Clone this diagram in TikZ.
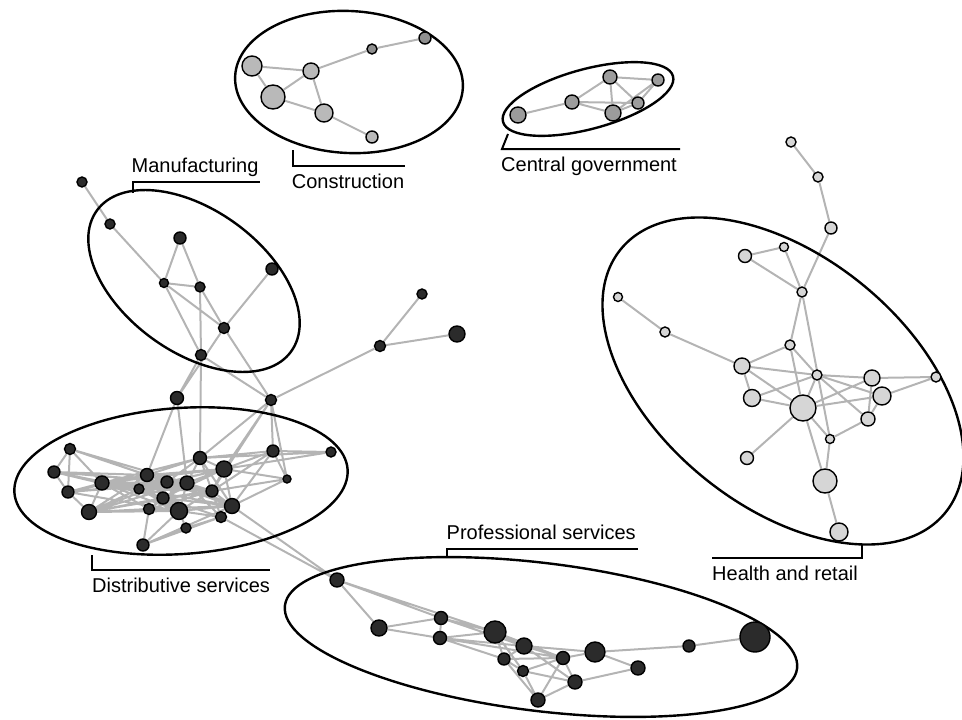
\documentclass[tikz,border=0pt]{standalone}
\usepackage{fontspec}
\setmainfont{Liberation Sans}
\usetikzlibrary{backgrounds}
\definecolor{linkgray}{HTML}{B4B4B4}
\definecolor{inkdark}{HTML}{2B2B2B}
\definecolor{paleface}{HTML}{D6D6D6}
\definecolor{buildface}{HTML}{B9B9B9}
\definecolor{buildfacedk}{HTML}{8F8F8F}
\definecolor{govface}{HTML}{9C9C9C}
\tikzset{
  link/.style={linkgray, line width=2pt},
  hull/.style={black, line width=2.4pt},
  tag/.style={black, line width=2pt},
  firm/.style={circle, draw=black, line width=1.4pt, fill=#1, inner sep=0pt},
  sz/.style={minimum size=#1pt},
  lab/.style={font=\fontsize{20}{24}\selectfont, inner sep=0pt, anchor=base west}
}

\begin{document}
\begin{tikzpicture}[x=1pt, y=-1pt]
    \useasboundingbox (0,0) rectangle (962,720);

    % construction
    \node[firm=buildface, sz=20] (c1) at (252,66) {};
    \node[firm=buildface, sz=24] (c2) at (273,97) {};
    \node[firm=buildface, sz=16] (c3) at (311,71) {};
    \node[firm=buildface, sz=18] (c4) at (324,113) {};
    \node[firm=buildfacedk, sz=10] (c5) at (372,49) {};
    \node[firm=buildfacedk, sz=12] (c6) at (425,38) {};
    \node[firm=buildface, sz=12] (c7) at (372,137) {};

    % central government
    \node[firm=govface, sz=16] (g1) at (518,115) {};
    \node[firm=govface, sz=14] (g2) at (572,102) {};
    \node[firm=govface, sz=14] (g3) at (610,77) {};
    \node[firm=govface, sz=12] (g4) at (658,80) {};
    \node[firm=govface, sz=12] (g5) at (638,103) {};
    \node[firm=govface, sz=16] (g6) at (613,113) {};

    % manufacturing
    \node[firm=inkdark, sz=10] (m1) at (82,182) {};
    \node[firm=inkdark, sz=10] (m2) at (110,224) {};
    \node[firm=inkdark, sz=12] (m3) at (180,238) {};
    \node[firm=inkdark, sz=9] (m4) at (164,283) {};
    \node[firm=inkdark, sz=10] (m5) at (200,287) {};
    \node[firm=inkdark, sz=12] (m6) at (272,269) {};
    \node[firm=inkdark, sz=11] (m7) at (224,328) {};
    \node[firm=inkdark, sz=11] (m8) at (201,355) {};

    % branch between the groups
    \node[firm=inkdark, sz=11] (h1) at (380,346) {};
    \node[firm=inkdark, sz=10] (h2) at (422,294) {};
    \node[firm=inkdark, sz=16] (h3) at (457,334) {};

    % distributive services
    \node[firm=inkdark, sz=13] (dA) at (177,398) {};
    \node[firm=inkdark, sz=11] (dB) at (271,400) {};
    \node[firm=inkdark, sz=11] (d1) at (70,449) {};
    \node[firm=inkdark, sz=12] (d2) at (54,472) {};
    \node[firm=inkdark, sz=12] (d3) at (68,492) {};
    \node[firm=inkdark, sz=15] (d4) at (89,512) {};
    \node[firm=inkdark, sz=14] (d5) at (102,483) {};
    \node[firm=inkdark, sz=13] (d6) at (147,475) {};
    \node[firm=inkdark, sz=10] (d7) at (139,489) {};
    \node[firm=inkdark, sz=12] (d8) at (167,482) {};
    \node[firm=inkdark, sz=14] (d9) at (187,483) {};
    \node[firm=inkdark, sz=13] (d10) at (200,458) {};
    \node[firm=inkdark, sz=16] (d11) at (224,469) {};
    \node[firm=inkdark, sz=12] (d12) at (163,498) {};
    \node[firm=inkdark, sz=11] (d13) at (149,509) {};
    \node[firm=inkdark, sz=17] (d14) at (179,511) {};
    \node[firm=inkdark, sz=12] (d15) at (212,491) {};
    \node[firm=inkdark, sz=15] (d16) at (232,506) {};
    \node[firm=inkdark, sz=11] (d17) at (221,517) {};
    \node[firm=inkdark, sz=10] (d18) at (186,528) {};
    \node[firm=inkdark, sz=12] (d19) at (143,545) {};
    \node[firm=inkdark, sz=12] (d20) at (273,451) {};
    \node[firm=inkdark, sz=10] (d21) at (331,452) {};
    \node[firm=inkdark, sz=8] (d22) at (287,479) {};

    % professional services
    \node[firm=inkdark, sz=14] (p1) at (337,580) {};
    \node[firm=inkdark, sz=16] (p2) at (379,628) {};
    \node[firm=inkdark, sz=13] (p3) at (441,618) {};
    \node[firm=inkdark, sz=13] (p4) at (440,638) {};
    \node[firm=inkdark, sz=22] (p5) at (495,632) {};
    \node[firm=inkdark, sz=16] (p6) at (524,646) {};
    \node[firm=inkdark, sz=12] (p7) at (504,659) {};
    \node[firm=inkdark, sz=11] (p8) at (523,671) {};
    \node[firm=inkdark, sz=13] (p9) at (563,658) {};
    \node[firm=inkdark, sz=20] (p10) at (595,652) {};
    \node[firm=inkdark, sz=14] (p11) at (575,682) {};
    \node[firm=inkdark, sz=14] (p12) at (538,700) {};
    \node[firm=inkdark, sz=14] (p13) at (638,668) {};
    \node[firm=inkdark, sz=12] (p14) at (689,646) {};
    \node[firm=inkdark, sz=30] (p15) at (755,637) {};

    % health and retail
    \node[firm=paleface, sz=10] (e1) at (791,142) {};
    \node[firm=paleface, sz=10] (e2) at (818,177) {};
    \node[firm=paleface, sz=12] (e3) at (831,228) {};
    \node[firm=paleface, sz=13] (e4) at (745,256) {};
    \node[firm=paleface, sz=9] (e5) at (784,247) {};
    \node[firm=paleface, sz=10] (e6) at (802,292) {};
    \node[firm=paleface, sz=9] (e7) at (618,297) {};
    \node[firm=paleface, sz=10] (e8) at (665,332) {};
    \node[firm=paleface, sz=10] (e9) at (790,345) {};
    \node[firm=paleface, sz=16] (e10) at (742,366) {};
    \node[firm=paleface, sz=10] (e11) at (817,375) {};
    \node[firm=paleface, sz=16] (e12) at (872,378) {};
    \node[firm=paleface, sz=10] (e13) at (936,377) {};
    \node[firm=paleface, sz=17] (e14) at (752,398) {};
    \node[firm=paleface, sz=18] (e15) at (882,396) {};
    \node[firm=paleface, sz=26] (e16) at (803,408) {};
    \node[firm=paleface, sz=14] (e17) at (868,419) {};
    \node[firm=paleface, sz=9] (e18) at (830,439) {};
    \node[firm=paleface, sz=13] (e19) at (747,458) {};
    \node[firm=paleface, sz=24] (e20) at (825,481) {};
    \node[firm=paleface, sz=18] (e21) at (839,532) {};

    \begin{scope}[on background layer]
    % links
    \draw[link] (c1) -- (c2) (c1) -- (c3) (c2) -- (c3) (c3) -- (c4) (c2) -- (c4)
      (c3) -- (c5) (c5) -- (c6) (c4) -- (c7);
    \draw[link] (g1) -- (g2) (g2) -- (g3) (g2) -- (g6) (g2) -- (g5) (g3) -- (g6)
      (g3) -- (g4) (g3) -- (g5) (g4) -- (g5) (g4) -- (g6) (g5) -- (g6);
    \draw[link] (m1) -- (m2) (m2) -- (m4) (m3) -- (m4) (m3) -- (m5) (m4) -- (m5)
      (m4) -- (m7) (m4) -- (m8) (m5) -- (m7) (m5) -- (m8) (m8) -- (d10) (m6) -- (m7)
      (m7) -- (dA) (m7) -- (dB) (m8) -- (dA) (m8) -- (dB);
    \draw[link] (dB) -- (h1) (h1) -- (h2) (h1) -- (h3);
    \draw[link] (d1) -- (d2) (d1) -- (d3) (d1) -- (d5) (d1) -- (d6) (d1) -- (d8) (d1) -- (d9)
      (d2) -- (d3) (d2) -- (d5) (d2) -- (d6) (d2) -- (d7) (d2) -- (d12) (d2) -- (d8) (d2) -- (d9)
      (d3) -- (d4) (d3) -- (d5) (d3) -- (d6) (d3) -- (d14) (d3) -- (d8) (d3) -- (d9)
      (d4) -- (d5) (d4) -- (d6) (d4) -- (d7) (d4) -- (d12) (d4) -- (d13) (d4) -- (d14) (d4) -- (d9)
      (d4) -- (d8) (d4) -- (d15)
      (d5) -- (d6) (d5) -- (d7) (d5) -- (d8) (d5) -- (d9) (d5) -- (d12) (d5) -- (d13) (d5) -- (d14) (d5) -- (d15)
      (d5) -- (d10) (d5) -- (d11)
      (d6) -- (d8) (d6) -- (d9) (d6) -- (d10) (d6) -- (d11) (d6) -- (d12) (d6) -- (d15) (d6) -- (d16) (d6) -- (d14)
      (d7) -- (d8) (d7) -- (d9) (d7) -- (d12) (d7) -- (d14) (d7) -- (d16) (d7) -- (d11) (d7) -- (d15)
      (d8) -- (d9) (d8) -- (d10) (d8) -- (d11) (d8) -- (d12) (d8) -- (d14) (d8) -- (d15) (d8) -- (d16)
      (d9) -- (d10) (d9) -- (d11) (d9) -- (d12) (d9) -- (d14) (d9) -- (d15) (d9) -- (d16) (d9) -- (d17)
      (d10) -- (d11) (d10) -- (d15) (d10) -- (d20) (d10) -- (d21) (d10) -- (d16)
      (d11) -- (d15) (d11) -- (d16) (d11) -- (d20) (d11) -- (d21) (d11) -- (d22) (d11) -- (d12)
      (d12) -- (d14) (d12) -- (d15) (d12) -- (d16) (d12) -- (d17) (d12) -- (d13)
      (d13) -- (d14) (d13) -- (d19) (d13) -- (d16) (d13) -- (d9) (d13) -- (d15)
      (d14) -- (d15) (d14) -- (d16) (d14) -- (d17) (d14) -- (d18) (d14) -- (d19)
      (d15) -- (d16) (d15) -- (d20) (d15) -- (d22) (d15) -- (d17)
      (d16) -- (d17) (d16) -- (d20) (d16) -- (d19) (d16) -- (d22)
      (d17) -- (d18) (d17) -- (d19) (d18) -- (d19) (d20) -- (d21) (d20) -- (d22)
      (dA) -- (d6) (dA) -- (d9) (dB) -- (d20) (dB) -- (d22) (dB) -- (d11) (dB) -- (d10) (dB) -- (d15);
    \draw[link] (d16) -- (p1) (d17) -- (p1);
    \draw[link] (p1) -- (p2) (p1) -- (p3) (p1) -- (p5) (p2) -- (p3) (p2) -- (p4) (p3) -- (p4)
      (p3) -- (p5) (p3) -- (p6) (p4) -- (p5) (p4) -- (p6) (p4) -- (p7) (p4) -- (p9)
      (p5) -- (p6) (p5) -- (p7) (p5) -- (p9) (p5) -- (p8) (p6) -- (p7) (p6) -- (p9)
      (p6) -- (p10) (p6) -- (p11) (p7) -- (p8) (p7) -- (p12) (p7) -- (p9) (p8) -- (p9)
      (p8) -- (p11) (p8) -- (p12) (p9) -- (p10) (p9) -- (p11) (p9) -- (p12) (p10) -- (p13)
      (p10) -- (p14) (p11) -- (p13) (p11) -- (p12) (p14) -- (p15);
    \draw[link] (e1) -- (e2) (e2) -- (e3) (e3) -- (e6) (e4) -- (e5) (e4) -- (e6) (e5) -- (e6)
      (e6) -- (e9) (e6) -- (e18) (e7) -- (e8) (e8) -- (e10) (e9) -- (e10) (e9) -- (e11)
      (e9) -- (e16) (e10) -- (e11) (e10) -- (e14) (e10) -- (e16) (e11) -- (e12) (e11) -- (e14)
      (e11) -- (e15) (e11) -- (e16) (e11) -- (e17) (e12) -- (e13) (e12) -- (e16) (e12) -- (e17)
      (e13) -- (e15) (e14) -- (e16) (e15) -- (e16) (e15) -- (e17) (e16) -- (e18) (e16) -- (e19)
      (e16) -- (e20) (e17) -- (e18) (e18) -- (e20) (e20) -- (e21);

    % group outlines
    \draw[hull, rotate around={-3:(349,82)}] (349,82) ellipse [x radius=114, y radius=71];
    \draw[hull, rotate around={15:(588,99)}] (588,99) ellipse [x radius=88, y radius=30];
    \draw[hull, rotate around={-36:(194,281)}] (194,281) ellipse [x radius=120, y radius=71];
    \draw[hull, rotate around={4:(181,481)}] (181,481) ellipse [x radius=167, y radius=73];
    \draw[hull, rotate around={-7:(541,637)}] (541,637) ellipse [x radius=258, y radius=74];
    \draw[hull, rotate around={-39:(783,381)}] (783,381) ellipse [x radius=209, y radius=125];
    \end{scope}

    % labels
    \coordinate (mantick) at (133,193);
    \coordinate (manend) at (260,181.7);
    \draw[tag] (mantick) |- (manend);
    \node[lab] (manlab) at (131.5,172.5) {Manufacturing};

    \coordinate (contick) at (293,150);
    \coordinate (conend) at (405,165.7);
    \draw[tag] (contick) |- (conend);
    \node[lab] (conlab) at (291.7,188) {Construction};

    \coordinate (govtick) at (508,134);
    \coordinate (govend) at (680,149);
    \draw[tag] (govtick) -- ++(-6,15) -- (govend);
    \node[lab] (govlab) at (501,171) {Central government};

    \coordinate (distick) at (92,555);
    \coordinate (disend) at (270,570);
    \draw[tag] (distick) |- (disend);
    \node[lab] (dislab) at (92,592) {Distributive services};

    \coordinate (protick) at (446.7,558);
    \coordinate (proend) at (637.7,549.3);
    \draw[tag] (protick) |- (proend);
    \node[lab] (prolab) at (446.5,539.3) {Professional services};

    \coordinate (heatick) at (861.7,545);
    \coordinate (heaend) at (711.7,557.7);
    \draw[tag] (heatick) |- (heaend);
    \node[lab] (healab) at (712,580) {Health and retail};
\end{tikzpicture}
\end{document}
